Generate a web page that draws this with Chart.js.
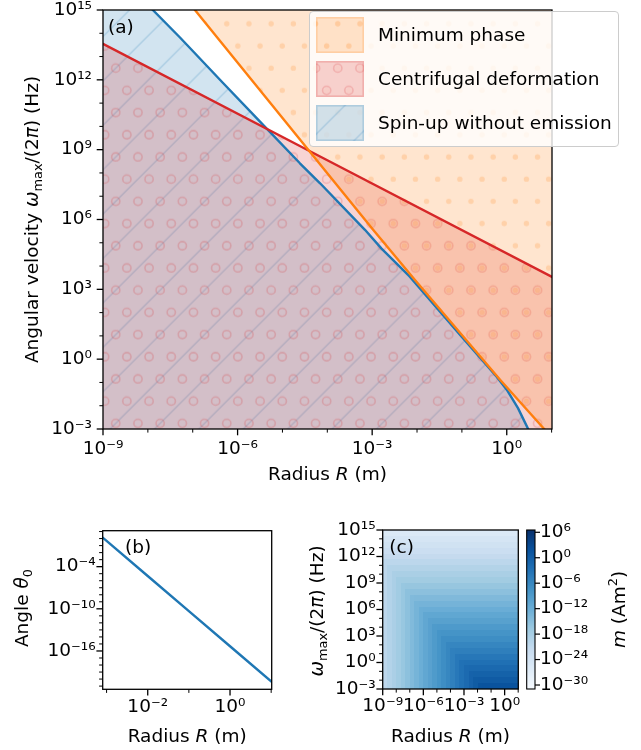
<!DOCTYPE html>
<html><head><meta charset="utf-8">
<script src="https://cdn.jsdelivr.net/npm/chart.js@4.4.1/dist/chart.umd.min.js"></script>
<style>
html,body{margin:0;padding:0;background:#fff;}
#wrap{position:relative;width:641px;height:750px;overflow:hidden;font-family:'DejaVu Sans',sans-serif;}
#wrap canvas{position:absolute;}
#legendA{position:absolute;left:309px;top:11px;width:310px;height:136px;box-sizing:border-box;border:1px solid #cccccc;border-radius:4px;background:rgba(255,255,255,0.8);}
.lgText{position:absolute;left:378px;height:36px;line-height:36px;font-size:18.5px;color:#000;white-space:nowrap;}
</style></head><body>
<div id="wrap">
<canvas id="cA" width="641" height="500" style="left:0;top:0"></canvas>
<canvas id="cB" width="300" height="250" style="left:0;top:500px"></canvas>
<canvas id="cC" width="341" height="250" style="left:300px;top:500px"></canvas>
<div id="legendA"></div>
</div>
<script>
// ---------------- DATA ----------------
// Panel (a): regions bounded by lines, R in m, omega_max/(2pi) in Hz
const seriesLabels = ['Minimum phase', 'Centrifugal deformation', 'Spin-up without emission'];
const minPhaseR = [1e-9, 1.12e-7, 1.05e-3, 8.9e-3, 0.71, 6.84, 10.2];
const minPhaseW = [7.9e19, 1e15, 3.6e5, 2.6e3, 0.13, 1e-3, 4e-4];
const centrifR = [1e-9, 1e-4, 10.2];
const centrifW = [3.5e13, 3.5e8, 3.4e3];
const spinupR = [1e-9, 1.29e-8, 5.2e-8, 4.8e-7, 2.9e-6, 2.45e-5, 6.9e-5, 6.9e-4, 1.62e-3, 6.9e-3, 0.1, 0.59, 1, 1.78, 3.0, 4.0];
const spinupW = [1.6e17, 1e15, 6.6e13, 7.1e11, 1.9e10, 2.6e8, 3.6e7, 3.6e5, 5.6e4, 3.5e3, 8.9, 0.18, 0.049, 7.9e-3, 1e-3, 3.2e-4];

// Panel (b): angle theta_0 vs R
const angleR = [8.05e-4, 1e-3, 1e-2, 1e-1, 1, 10.3];
const angleTheta = [1.38, 0.47, 4.7e-6, 4.7e-11, 4.7e-16, 4.0e-21];

// Panel (c): log10 of m (Am^2); columns = R (1/3 decade), rows = omega (2/3 decade, top to bottom)
const heatRExpEdges = [-9,-8.667,-8.333,-8,-7.667,-7.333,-7,-6.667,-6.333,-6,-5.667,-5.333,-5,-4.667,-4.333,-4,-3.667,-3.333,-3,-2.667,-2.333,-2,-1.667,-1.333,-1,-0.667,-0.333,0,0.333,0.667,1];
const heatWExpEdges = [15,14.333,13.667,13,12.333,11.667,11,10.333,9.667,9,8.333,7.667,7,6.333,5.667,5,4.333,3.667,3,2.333,1.667,1,0.333,-0.333,-1,-1.667,-2.333,-3];
const heatLogM = [
 [-25.6,-25.6,-25.6,-25.6,-25.6,-25.6,-25.6,-25.6,-25.6,-25.6, -25.6,-25.6,-25.6,-25.6,-25.6,-25.6,-25.6,-25.6,-25.6,-25.6, -25.6,-25.6,-25.6,-25.6,-25.6,-25.6,-25.6,-25.6,-25.6,-25.6],
 [-24.5,-24.5,-24.5,-24.5,-24.5,-24.5,-24.5,-24.5,-24.5,-24.5, -24.5,-24.5,-24.5,-24.5,-24.5,-24.5,-24.5,-24.5,-24.5,-24.5, -24.5,-24.5,-24.5,-24.5,-24.5,-24.5,-24.5,-24.5,-24.5,-24.5],
 [-23.5,-23.5,-23.5,-23.5,-23.5,-23.5,-23.5,-23.5,-23.5,-23.5, -23.5,-23.5,-23.5,-23.5,-23.5,-23.5,-23.5,-23.5,-23.5,-23.5, -23.5,-23.5,-23.5,-23.5,-23.5,-23.5,-23.5,-23.5,-23.5,-23.5],
 [-22.5,-22.5,-22.5,-22.5,-22.5,-22.5,-22.5,-22.5,-22.5,-22.5, -22.5,-22.5,-22.5,-22.5,-22.5,-22.5,-22.5,-22.5,-22.5,-22.5, -22.5,-22.5,-22.5,-22.5,-22.5,-22.5,-22.5,-22.5,-22.5,-22.5],
 [-21.4,-21.4,-21.4,-21.4,-21.4,-21.4,-21.4,-21.4,-21.4,-21.4, -21.4,-21.4,-21.4,-21.4,-21.4,-21.4,-21.4,-21.4,-21.4,-21.4, -21.4,-21.4,-21.4,-21.4,-21.4,-21.4,-21.4,-21.4,-21.4,-21.4],
 [-20.5,-20.4,-20.4,-20.4,-20.4,-20.4,-20.4,-20.4,-20.4,-20.4, -20.4,-20.4,-20.4,-20.4,-20.4,-20.4,-20.4,-20.4,-20.4,-20.4, -20.4,-20.4,-20.4,-20.4,-20.4,-20.4,-20.4,-20.4,-20.4,-20.4],
 [-20.5,-19.4,-19.3,-19.3,-19.3,-19.3,-19.3,-19.3,-19.3,-19.3, -19.3,-19.3,-19.3,-19.3,-19.3,-19.3,-19.3,-19.3,-19.3,-19.3, -19.3,-19.3,-19.3,-19.3,-19.3,-19.3,-19.3,-19.3,-19.3,-19.3],
 [-20.5,-19.4,-18.4,-18.3,-18.3,-18.3,-18.3,-18.3,-18.3,-18.3, -18.3,-18.3,-18.3,-18.3,-18.3,-18.3,-18.3,-18.3,-18.3,-18.3, -18.3,-18.3,-18.3,-18.3,-18.3,-18.3,-18.3,-18.3,-18.3,-18.3],
 [-20.5,-19.4,-18.4,-17.4,-17.3,-17.3,-17.3,-17.3,-17.3,-17.3, -17.3,-17.3,-17.3,-17.3,-17.3,-17.3,-17.3,-17.3,-17.3,-17.3, -17.3,-17.3,-17.3,-17.3,-17.3,-17.3,-17.3,-17.3,-17.3,-17.3],
 [-20.5,-19.4,-18.4,-17.4,-16.3,-16.2,-16.2,-16.2,-16.2,-16.2, -16.2,-16.2,-16.2,-16.2,-16.2,-16.2,-16.2,-16.2,-16.2,-16.2, -16.2,-16.2,-16.2,-16.2,-16.2,-16.2,-16.2,-16.2,-16.2,-16.2],
 [-20.5,-19.4,-18.4,-17.4,-16.3,-15.3,-15.2,-15.2,-15.2,-15.2, -15.2,-15.2,-15.2,-15.2,-15.2,-15.2,-15.2,-15.2,-15.2,-15.2, -15.2,-15.2,-15.2,-15.2,-15.2,-15.2,-15.2,-15.2,-15.2,-15.2],
 [-20.5,-19.4,-18.4,-17.4,-16.3,-15.3,-14.2,-14.1,-14.1,-14.1, -14.1,-14.1,-14.1,-14.1,-14.1,-14.1,-14.1,-14.1,-14.1,-14.1, -14.1,-14.1,-14.1,-14.1,-14.1,-14.1,-14.1,-14.1,-14.1,-14.1],
 [-20.5,-19.4,-18.4,-17.4,-16.3,-15.3,-14.2,-13.2,-13.1,-13.1, -13.1,-13.1,-13.1,-13.1,-13.1,-13.1,-13.1,-13.1,-13.1,-13.1, -13.1,-13.1,-13.1,-13.1,-13.1,-13.1,-13.1,-13.1,-13.1,-13.1],
 [-20.5,-19.4,-18.4,-17.4,-16.3,-15.3,-14.2,-13.2,-12.2,-12.1, -12.1,-12.1,-12.1,-12.1,-12.1,-12.1,-12.1,-12.1,-12.1,-12.1, -12.1,-12.1,-12.1,-12.1,-12.1,-12.1,-12.1,-12.1,-12.1,-12.1],
 [-20.5,-19.4,-18.4,-17.4,-16.3,-15.3,-14.2,-13.2,-12.2,-11.1, -11.0,-11.0,-11.0,-11.0,-11.0,-11.0,-11.0,-11.0,-11.0,-11.0, -11.0,-11.0,-11.0,-11.0,-11.0,-11.0,-11.0,-11.0,-11.0,-11.0],
 [-20.5,-19.4,-18.4,-17.4,-16.3,-15.3,-14.2,-13.2,-12.2,-11.1, -10.1,-10.0,-10.0,-10.0,-10.0,-10.0,-10.0,-10.0,-10.0,-10.0, -10.0,-10.0,-10.0,-10.0,-10.0,-10.0,-10.0,-10.0,-10.0,-10.0],
 [-20.5,-19.4,-18.4,-17.4,-16.3,-15.3,-14.2,-13.2,-12.2,-11.1, -10.1,-9.0,-8.9,-8.9,-8.9,-8.9,-8.9,-8.9,-8.9,-8.9, -8.9,-8.9,-8.9,-8.9,-8.9,-8.9,-8.9,-8.9,-8.9,-8.9],
 [-20.5,-19.4,-18.4,-17.4,-16.3,-15.3,-14.2,-13.2,-12.2,-11.1, -10.1,-9.0,-8.0,-7.9,-7.9,-7.9,-7.9,-7.9,-7.9,-7.9, -7.9,-7.9,-7.9,-7.9,-7.9,-7.9,-7.9,-7.9,-7.9,-7.9],
 [-20.5,-19.4,-18.4,-17.4,-16.3,-15.3,-14.2,-13.2,-12.2,-11.1, -10.1,-9.0,-8.0,-7.0,-6.9,-6.9,-6.9,-6.9,-6.9,-6.9, -6.9,-6.9,-6.9,-6.9,-6.9,-6.9,-6.9,-6.9,-6.9,-6.9],
 [-20.5,-19.4,-18.4,-17.4,-16.3,-15.3,-14.2,-13.2,-12.2,-11.1, -10.1,-9.0,-8.0,-7.0,-5.9,-5.8,-5.8,-5.8,-5.8,-5.8, -5.8,-5.8,-5.8,-5.8,-5.8,-5.8,-5.8,-5.8,-5.8,-5.8],
 [-20.5,-19.4,-18.4,-17.4,-16.3,-15.3,-14.2,-13.2,-12.2,-11.1, -10.1,-9.0,-8.0,-7.0,-5.9,-4.9,-4.8,-4.8,-4.8,-4.8, -4.8,-4.8,-4.8,-4.8,-4.8,-4.8,-4.8,-4.8,-4.8,-4.8],
 [-20.5,-19.4,-18.4,-17.4,-16.3,-15.3,-14.2,-13.2,-12.2,-11.1, -10.1,-9.0,-8.0,-7.0,-5.9,-4.9,-3.8,-3.7,-3.7,-3.7, -3.7,-3.7,-3.7,-3.7,-3.7,-3.7,-3.7,-3.7,-3.7,-3.7],
 [-20.5,-19.4,-18.4,-17.4,-16.3,-15.3,-14.2,-13.2,-12.2,-11.1, -10.1,-9.0,-8.0,-7.0,-5.9,-4.9,-3.8,-2.8,-2.7,-2.7, -2.7,-2.7,-2.7,-2.7,-2.7,-2.7,-2.7,-2.7,-2.7,-2.7],
 [-20.5,-19.4,-18.4,-17.4,-16.3,-15.3,-14.2,-13.2,-12.2,-11.1, -10.1,-9.0,-8.0,-7.0,-5.9,-4.9,-3.8,-2.8,-1.8,-1.7, -1.7,-1.7,-1.7,-1.7,-1.7,-1.7,-1.7,-1.7,-1.7,-1.7],
 [-20.5,-19.4,-18.4,-17.4,-16.3,-15.3,-14.2,-13.2,-12.2,-11.1, -10.1,-9.0,-8.0,-7.0,-5.9,-4.9,-3.8,-2.8,-1.8,-0.7, -0.6,-0.6,-0.6,-0.6,-0.6,-0.6,-0.6,-0.6,-0.6,-0.6],
 [-20.5,-19.4,-18.4,-17.4,-16.3,-15.3,-14.2,-13.2,-12.2,-11.1, -10.1,-9.0,-8.0,-7.0,-5.9,-4.9,-3.8,-2.8,-1.8,-0.7, 0.3,0.4,0.4,0.4,0.4,0.4,0.4,0.4,0.4,0.4],
 [-20.5,-19.4,-18.4,-17.4,-16.3,-15.3,-14.2,-13.2,-12.2,-11.1, -10.1,-9.0,-8.0,-7.0,-5.9,-4.9,-3.8,-2.8,-1.8,-0.7, 0.3,1.4,1.5,1.5,1.5,1.5,1.5,1.5,1.5,1.5]
];
const cbMinExp = -30.94, cbMaxExp = 6.54;

// Tick labels
const aXTickExp = [-9,-8,-7,-6,-5,-4,-3,-2,-1,0,1];
const aXTickLabel = ['10⁻⁹','','','10⁻⁶','','','10⁻³','','','10⁰',''];
const aYTickExp = [-3,-2,-1,0,1,2,3,4,5,6,7,8,9,10,11,12,13,14,15];
const aYTickLabel = ['10⁻³','','','10⁰','','','10³','','','10⁶','','','10⁹','','','10¹²','','','10¹⁵'];
const bXTickExp = [-3,-2,-1,0,1];
const bXTickLabel = ['','10⁻²','','10⁰',''];
const bYTickExp = [-21,-20,-19,-18,-17,-16,-15,-14,-13,-12,-11,-10,-9,-8,-7,-6,-5,-4,-3,-2,-1,0,1];
const bYTickLabel = ['','','','','','10⁻¹⁶','','','','','','10⁻¹⁰','','','','','','10⁻⁴','','','','',''];
const cbTickExp = [-30,-24,-18,-12,-6,0,6];
const cbTickLabel = ['10⁻³⁰','10⁻²⁴','10⁻¹⁸','10⁻¹²','10⁻⁶','10⁰','10⁶'];

// Texts
const radiusTitle = [{t:'Radius '},{t:'R',it:1},{t:' (m)'}];
const omegaTitleA = [{t:'Angular velocity '},{t:'ω',it:1},{t:'max',sub:1},{t:'/(2'},{t:'π',it:1},{t:') (Hz)'}];
const omegaTitleC = [{t:'ω',it:1},{t:'max',sub:1},{t:'/(2'},{t:'π',it:1},{t:') (Hz)'}];
const angleTitle = [{t:'Angle '},{t:'θ',it:1},{t:'0',sub:1}];
const cbTitle = [{t:'m',it:1},{t:' (Am'},{t:'2',sup:1},{t:')'}];

// ---------------- HELPERS ----------------
Chart.defaults.font.family = "'DejaVu Sans', sans-serif";
Chart.defaults.font.size = 18.5;
Chart.defaults.color = '#000';

const C_ORANGE = '255,127,14', C_RED = '214,39,40', C_BLUE = '31,119,180';
const HATCH_OX = 26.9, HATCH_OY = 23.7;

function hatchTile(kind, rgb) {
  const S = 444, step = S / 20;
  const c = document.createElement('canvas'); c.width = S; c.height = S;
  const g = c.getContext('2d');
  const col = 'rgba(' + rgb + ',0.2)';
  g.fillStyle = col; g.fillRect(0, 0, S, S);
  g.strokeStyle = col; g.fillStyle = col;
  if (kind === 'dots' || kind === 'circles') {
    for (let r = -1; r <= 20; r++) for (let k = -1; k <= 20; k++) {
      const x = k * step + ((r & 1) ? step / 2 : 0), y = r * step;
      g.beginPath(); g.arc(x, y, kind === 'dots' ? 2.7 : 4.1, 0, 2 * Math.PI);
      if (kind === 'dots') g.fill(); else { g.lineWidth = 1.6; g.stroke(); }
    }
  } else {
    g.lineWidth = 1.5;
    for (let k = 0; k <= 20; k++) {
      const cst = k * 2 * step;
      g.beginPath(); g.moveTo(cst + 3, -3); g.lineTo(cst - S - 3, S + 3); g.stroke();
    }
  }
  return c;
}
const tiles = { orange: hatchTile('dots', C_ORANGE), red: hatchTile('circles', C_RED), blue: hatchTile('lines', C_BLUE) };
function makePattern(ctx, tile, px, py) {
  const p = ctx.createPattern(tile, 'repeat');
  p.setTransform(new DOMMatrix([1, 0, 0, 1, HATCH_OX - px, HATCH_OY - py]));
  return p;
}

const BLUES = [[247,251,255],[222,235,247],[198,219,239],[158,202,225],[107,174,214],[66,146,198],[33,113,181],[8,81,156],[8,48,107]];
function blues(t) {
  t = Math.max(0, Math.min(1, t));
  const f = t * 8, i = Math.min(7, Math.floor(f)), u = f - i;
  const a = BLUES[i], b = BLUES[i + 1];
  return 'rgb(' + a.map((v, j) => Math.round(v + (b[j] - v) * u)).join(',') + ')';
}

function logAxis(min, max, exps, labels, pad, extra) {
  return Object.assign({
    type: 'logarithmic', min: min, max: max, bounds: 'data',
    grid: { display: false, drawTicks: false }, border: { display: false },
    afterBuildTicks: s => { s.ticks = exps.map(e => ({ value: Math.pow(10, e) })); },
    ticks: { autoSkip: false, maxRotation: 0, minRotation: 0, padding: pad, color: '#000',
             callback: (v, i) => (labels[i] !== undefined ? labels[i] : '') }
  }, extra);
}
function fitH(h) { return s => { s.height = h; s.paddingLeft = 0; s.paddingRight = 0; }; }
function fitW(w) { return s => { s.width = w; s.paddingTop = 0; s.paddingBottom = 0; }; }

function drawRich(ctx, segs, x, y, rot, size, align) {
  ctx.save(); ctx.translate(x, y); ctx.rotate(rot || 0);
  ctx.fillStyle = '#000'; ctx.textBaseline = 'alphabetic'; ctx.textAlign = 'left';
  const fontOf = s => (s.it ? 'italic ' : '') + ((s.sub || s.sup) ? size * 0.7 : size) + "px 'DejaVu Sans'";
  let w = 0; for (const s of segs) { ctx.font = fontOf(s); w += ctx.measureText(s.t).width; }
  let cx = align === 'left' ? 0 : -w / 2;
  const base = 0.36 * size;
  for (const s of segs) {
    ctx.font = fontOf(s);
    const dy = s.sub ? 0.22 * size : (s.sup ? -0.42 * size : 0);
    ctx.fillText(s.t, cx, base + dy);
    cx += ctx.measureText(s.t).width;
  }
  ctx.restore();
}

const richText = {
  id: 'richText',
  afterDraw(chart, args, opts) {
    for (const it of (opts.items || [])) drawRich(chart.ctx, it.segs, it.x, it.y, it.rot, it.size || 18.5, it.align);
  }
};

const frameTicks = {
  id: 'frameTicks',
  afterDraw(chart) {
    const { ctx, chartArea: a } = chart;
    ctx.save();
    ctx.strokeStyle = '#000';
    for (const id of ['x', 'y']) {
      const s = chart.scales[id];
      for (const t of s.ticks) {
        const major = t.label !== '' && t.label != null;
        const len = major ? 6.3 : 3.6;
        ctx.lineWidth = major ? 1.3 : 1.0;
        const p = s.getPixelForValue(t.value);
        ctx.beginPath();
        if (id === 'x') { ctx.moveTo(p, a.bottom); ctx.lineTo(p, a.bottom + len); }
        else { ctx.moveTo(a.left - len, p); ctx.lineTo(a.left, p); }
        ctx.stroke();
      }
    }
    ctx.lineWidth = 1.3;
    ctx.strokeRect(a.left, a.top, a.right - a.left, a.bottom - a.top);
    ctx.restore();
  }
};

const heatPlugin = {
  id: 'heatPlugin',
  beforeDatasetsDraw(chart) {
    const { ctx, chartArea: a, scales } = chart;
    const xs = scales.x, ys = scales.y;
    ctx.save();
    ctx.beginPath(); ctx.rect(a.left, a.top, a.right - a.left, a.bottom - a.top); ctx.clip();
    for (let r = 0; r < heatLogM.length; r++) {
      const y0 = Math.round(ys.getPixelForValue(Math.pow(10, heatWExpEdges[r])));
      const y1 = Math.round(ys.getPixelForValue(Math.pow(10, heatWExpEdges[r + 1])));
      for (let c = 0; c < heatLogM[r].length; c++) {
        const x0 = Math.round(xs.getPixelForValue(Math.pow(10, heatRExpEdges[c])));
        const x1 = Math.round(xs.getPixelForValue(Math.pow(10, heatRExpEdges[c + 1])));
        ctx.fillStyle = blues((heatLogM[r][c] - cbMinExp) / (cbMaxExp - cbMinExp));
        ctx.fillRect(x0, Math.min(y0, y1), x1 - x0, Math.abs(y1 - y0));
      }
    }
    ctx.restore();
  },
  afterDraw(chart) {
    const { ctx } = chart;
    const cb = chart.scales.cb;
    const bx = cb.left + 8.4, bw = 8.3;
    ctx.save();
    for (let y = Math.floor(cb.top); y < Math.ceil(cb.bottom); y++) {
      const v = Math.log10(cb.getValueForPixel(y + 0.5));
      ctx.fillStyle = blues((v - cbMinExp) / (cbMaxExp - cbMinExp));
      ctx.fillRect(bx, y, bw, 1);
    }
    ctx.strokeStyle = '#000'; ctx.lineWidth = 1.1;
    ctx.strokeRect(bx, cb.top, bw, cb.bottom - cb.top);
    ctx.lineWidth = 1.2;
    for (const t of cb.ticks) {
      const p = cb.getPixelForValue(t.value);
      ctx.beginPath(); ctx.moveTo(bx + bw, p); ctx.lineTo(bx + bw + 5, p); ctx.stroke();
    }
    ctx.restore();
  }
};

function pts(xs, ys) { return xs.map((x, i) => ({ x: x, y: ys[i] })); }

// ---------------- CHART A ----------------
const ctxA = document.getElementById('cA').getContext('2d');
const patA = { orange: makePattern(ctxA, tiles.orange, 0, 0), red: makePattern(ctxA, tiles.red, 0, 0), blue: makePattern(ctxA, tiles.blue, 0, 0) };
const lineStyle = { pointRadius: 0, tension: 0, borderWidth: 2.4, borderJoinStyle: 'round', borderCapStyle: 'round' };
const chartA = new Chart(ctxA, {
  type: 'line',
  data: { datasets: [
    Object.assign({ label: seriesLabels[0], data: pts(minPhaseR, minPhaseW), borderColor: 'rgb(' + C_ORANGE + ')', backgroundColor: patA.orange, fill: 'end', order: 0 }, lineStyle),
    Object.assign({ label: seriesLabels[1], data: pts(centrifR, centrifW), borderColor: 'rgb(' + C_RED + ')', backgroundColor: patA.red, fill: 'start', order: 1 }, lineStyle),
    Object.assign({ label: seriesLabels[2], data: pts(spinupR, spinupW), borderColor: 'rgb(' + C_BLUE + ')', backgroundColor: patA.blue, fill: 'start', order: 2 }, lineStyle)
  ]},
  options: {
    responsive: false, animation: false, devicePixelRatio: 1,
    layout: { padding: { left: 0, top: 10, right: 89, bottom: 0 } },
    scales: {
      x: logAxis(1e-9, 10.2, aXTickExp, aXTickLabel, 9, { position: 'bottom', afterFit: fitH(71) }),
      y: logAxis(1e-3, 1e15, aYTickExp, aYTickLabel, 11, { position: 'left', afterFit: fitW(103) })
    },
    plugins: {
      legend: { display: false }, tooltip: { enabled: false },
      filler: { drawTime: 'beforeDatasetsDraw' },
      richText: { items: [
        { segs: radiusTitle, x: 327.5, y: 473.5 },
        { segs: omegaTitleA, x: 31, y: 219.5, rot: -Math.PI / 2 },
        { segs: [{ t: '(a)' }], x: 108, y: 26, align: 'left' }
      ]}
    }
  },
  plugins: [frameTicks, richText]
});

// HTML legend with the same hatch patterns
(function buildLegend() {
  const wrap = document.getElementById('wrap');
  const tops = [17, 61, 105];
  const keys = ['orange', 'red', 'blue'];
  const rgbs = [C_ORANGE, C_RED, C_BLUE];
  chartA.data.datasets.forEach((ds, i) => {
    const cv = document.createElement('canvas');
    cv.width = 48; cv.height = 36;
    cv.style.left = '316px'; cv.style.top = tops[i] + 'px';
    wrap.appendChild(cv);
    const g = cv.getContext('2d');
    g.fillStyle = makePattern(g, tiles[keys[i]], 316, tops[i]);
    g.fillRect(0, 0, 48, 36);
    g.strokeStyle = 'rgba(' + rgbs[i] + ',0.2)'; g.lineWidth = 1.6;
    g.strokeRect(0.8, 0.8, 46.4, 34.4);
    const sp = document.createElement('div');
    sp.className = 'lgText'; sp.style.top = tops[i] + 'px';
    sp.textContent = ds.label;
    wrap.appendChild(sp);
  });
})();

// ---------------- CHART B ----------------
new Chart(document.getElementById('cB').getContext('2d'), {
  type: 'line',
  data: { datasets: [ Object.assign({ label: 'Angle', data: pts(angleR, angleTheta), borderColor: 'rgb(' + C_BLUE + ')', fill: false }, lineStyle) ] },
  options: {
    responsive: false, animation: false, devicePixelRatio: 1,
    layout: { padding: { left: 0, top: 30.7, right: 28.3, bottom: 0 } },
    scales: {
      x: logAxis(8.05e-4, 10.3, bXTickExp, bXTickLabel, 6.5, { position: 'bottom', afterFit: fitH(60.7) }),
      y: logAxis(3.5e-22, 13.2, bYTickExp, bYTickLabel, 7, { position: 'left', afterFit: fitW(102.7) })
    },
    plugins: {
      legend: { display: false }, tooltip: { enabled: false },
      richText: { items: [
        { segs: radiusTitle, x: 187.2, y: 235 },
        { segs: angleTitle, x: 21.7, y: 108, rot: -Math.PI / 2 },
        { segs: [{ t: '(b)' }], x: 125, y: 46.7, align: 'left' }
      ]}
    }
  },
  plugins: [frameTicks, richText]
});

// ---------------- CHART C ----------------
const heatPoints = [];
for (let r = 0; r < heatLogM.length; r++) for (let c = 0; c < heatLogM[r].length; c++) {
  heatPoints.push({ x: Math.pow(10, (heatRExpEdges[c] + heatRExpEdges[c + 1]) / 2), y: Math.pow(10, (heatWExpEdges[r] + heatWExpEdges[r + 1]) / 2), v: heatLogM[r][c] });
}
new Chart(document.getElementById('cC').getContext('2d'), {
  type: 'scatter',
  data: { datasets: [ { label: 'm', data: heatPoints, pointRadius: 0, showLine: false } ] },
  options: {
    responsive: false, animation: false, devicePixelRatio: 1,
    layout: { padding: { left: 0, top: 30, right: 0, bottom: 0 } },
    scales: {
      x: logAxis(1e-9, 10.2, aXTickExp, aXTickLabel, 6.5, { position: 'bottom', afterFit: fitH(61) }),
      y: logAxis(1e-3, 1e15, aYTickExp, aYTickLabel, 7, { position: 'left', afterFit: fitW(82.7) }),
      cb: logAxis(Math.pow(10, cbMinExp), Math.pow(10, cbMaxExp), cbTickExp, cbTickLabel, 21.7, { position: 'right', afterFit: fitW(122.7) })
    },
    plugins: {
      legend: { display: false }, tooltip: { enabled: false },
      richText: { items: [
        { segs: radiusTitle, x: 150.5, y: 235.5 },
        { segs: omegaTitleC, x: 16, y: 111, rot: -Math.PI / 2 },
        { segs: cbTitle, x: 318, y: 109.5, rot: -Math.PI / 2 },
        { segs: [{ t: '(c)' }], x: 89.3, y: 46.7, align: 'left' }
      ]}
    }
  },
  plugins: [heatPlugin, frameTicks, richText]
});
</script>
</body></html>
